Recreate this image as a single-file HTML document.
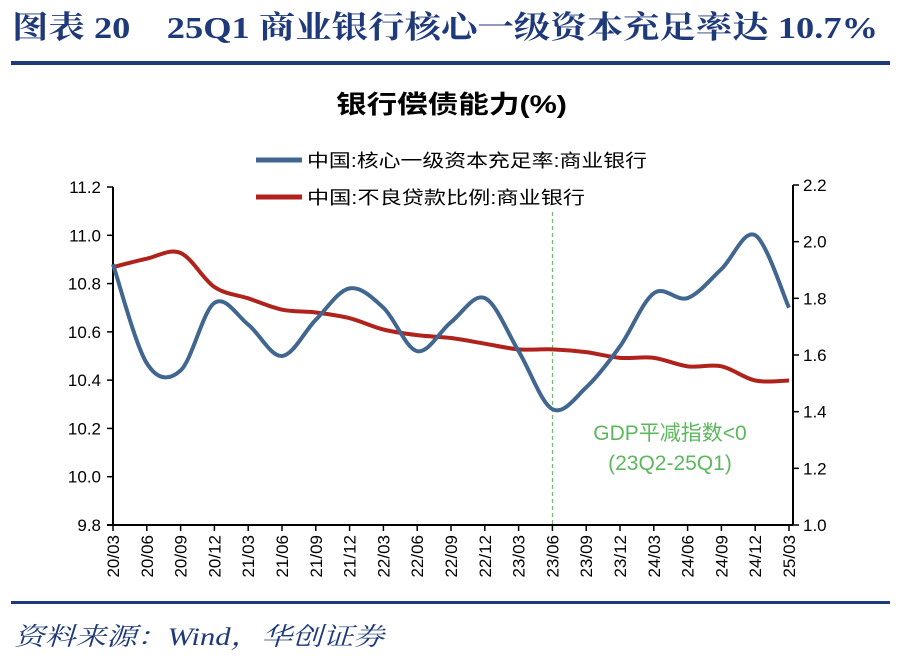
<!DOCTYPE html>
<html><head><meta charset="utf-8"><style>
body{margin:0;background:#fff;width:900px;height:663px;overflow:hidden;font-family:"Liberation Sans","Noto Sans CJK SC",sans-serif}
svg{display:block}
</style></head><body>
<svg id="c" width="900" height="663">
<text x="12" y="38" font-family="'Liberation Serif','Noto Serif CJK SC',serif" font-weight="bold" font-size="31" fill="#1f3a7a" textLength="866" lengthAdjust="spacingAndGlyphs">图表 20　25Q1 商业银行核心一级资本充足率达 10.7%</text>
<rect x="11" y="61" width="879" height="4" fill="#1f3a7a"/>
<text x="336" y="113" font-weight="bold" font-size="25" fill="#000" textLength="231" lengthAdjust="spacingAndGlyphs">银行偿债能力(%)</text>
<g id="legend">
<line x1="256" y1="160" x2="302" y2="160" stroke="#41668f" stroke-width="5"/>
<text x="307" y="167" font-size="18" textLength="340" lengthAdjust="spacingAndGlyphs">中国:核心一级资本充足率:商业银行</text>
<line x1="256" y1="197" x2="302" y2="197" stroke="#b0231c" stroke-width="5"/>
<text x="307" y="204" font-size="18" textLength="278" lengthAdjust="spacingAndGlyphs">中国:不良贷款比例:商业银行</text>
</g>
<g id="axes"></g>
<g id="plot"></g>
<text x="670" y="440" text-anchor="middle" font-size="21" fill="#5cb85c">GDP平减指数&lt;0</text>
<text x="670" y="470" text-anchor="middle" font-size="21" fill="#5cb85c">(23Q2-25Q1)</text>
<rect x="11" y="601" width="879" height="3" fill="#1f3a7a"/>
<text x="14" y="645" font-family="'Liberation Serif','Noto Serif CJK SC',serif" font-style="italic" font-size="25" fill="#1f3a7a" textLength="370" lengthAdjust="spacingAndGlyphs">资料来源：Wind，华创证券</text>
</svg>
<script>
const categories=["20/03","20/06","20/09","20/12","21/03","21/06","21/09","21/12","22/03","22/06","22/09","22/12","23/03","23/06","23/09","23/12","24/03","24/06","24/09","24/12","25/03"];
const carValues=[10.88,10.47,10.44,10.72,10.63,10.50,10.65,10.78,10.70,10.52,10.64,10.74,10.52,10.28,10.37,10.54,10.76,10.74,10.86,11.00,10.70];
const nplValues=[1.91,1.94,1.96,1.84,1.80,1.76,1.75,1.73,1.69,1.67,1.66,1.64,1.62,1.62,1.61,1.59,1.59,1.56,1.56,1.51,1.51];
const leftTicks=[9.8,10.0,10.2,10.4,10.6,10.8,11.0,11.2];
const rightTicks=[1.0,1.2,1.4,1.6,1.8,2.0,2.2];
const markerCategory="23/06";
const NS="http://www.w3.org/2000/svg";
const X0=113,X1=789,YB=525,YT=187;
const xs=i=>X0+i*(X1-X0)/(categories.length-1);
const yl=v=>YB-(v-9.8)/(11.2-9.8)*(YB-YT);
const yr=v=>YB-(v-1.0)/(2.2-1.0)*(YB-YT+2);
function mk(t,a,p){const e=document.createElementNS(NS,t);for(const k in a)e.setAttribute(k,a[k]);p.appendChild(e);return e;}
const ax=document.getElementById('axes'),pl=document.getElementById('plot');
let e=mk('line',{x1:X0,y1:YT,x2:X0,y2:YB,stroke:'#000','stroke-width':2},ax);


e=mk('line',{x1:X1+4,y1:YT-2,x2:X1+4,y2:YB,stroke:'#000','stroke-width':2},ax);


e=mk('line',{x1:X0-6,y1:YB,x2:X1+4,y2:YB,stroke:'#000','stroke-width':2},ax);


leftTicks.forEach(v=>{const y=yl(v);
mk('line',{x1:X0-6,y1:y,x2:X0,y2:y,stroke:'#000','stroke-width':1.5},ax);
const t=mk('text',{x:X0-12,y:y+6,'text-anchor':'end','font-size':17},ax);t.textContent=v.toFixed(1);

});
rightTicks.forEach(v=>{const y=yr(v);
mk('line',{x1:X1+4,y1:y,x2:X1+10,y2:y,stroke:'#000','stroke-width':1.5},ax);
const t=mk('text',{x:X1+14,y:y+6,'font-size':17},ax);t.textContent=v.toFixed(1);

});
categories.forEach((c,i)=>{const x=xs(i);
mk('line',{x1:x,y1:YB,x2:x,y2:YB+6,stroke:'#000','stroke-width':1.5},ax);
const t=mk('text',{x:0,y:0,'font-size':17,transform:`translate(${x+6},${YB+10}) rotate(-90)`,'text-anchor':'end'},ax);t.textContent=c;

});
const mi=categories.indexOf(markerCategory);
e=mk('line',{x1:xs(mi),y1:212,x2:xs(mi),y2:YB,stroke:'#5cb85c','stroke-width':1,'stroke-dasharray':'4,3'},pl);


function smooth(pts){let d=`M${pts[0][0]},${pts[0][1]}`;
for(let i=0;i<pts.length-1;i++){const p0=pts[Math.max(0,i-1)],p1=pts[i],p2=pts[i+1],p3=pts[Math.min(pts.length-1,i+2)];
d+=`C${p1[0]+(p2[0]-p0[0])/6},${p1[1]+(p2[1]-p0[1])/6} ${p2[0]-(p3[0]-p1[0])/6},${p2[1]-(p3[1]-p1[1])/6} ${p2[0]},${p2[1]}`;}return d;}
e=mk('path',{d:smooth(nplValues.map((v,i)=>[xs(i),yr(v)])),fill:'none',stroke:'#b0231c','stroke-width':4},pl);


e=mk('path',{d:smooth(carValues.map((v,i)=>[xs(i),yl(v)])),fill:'none',stroke:'#41668f','stroke-width':4},pl);


</script>
</body></html>
